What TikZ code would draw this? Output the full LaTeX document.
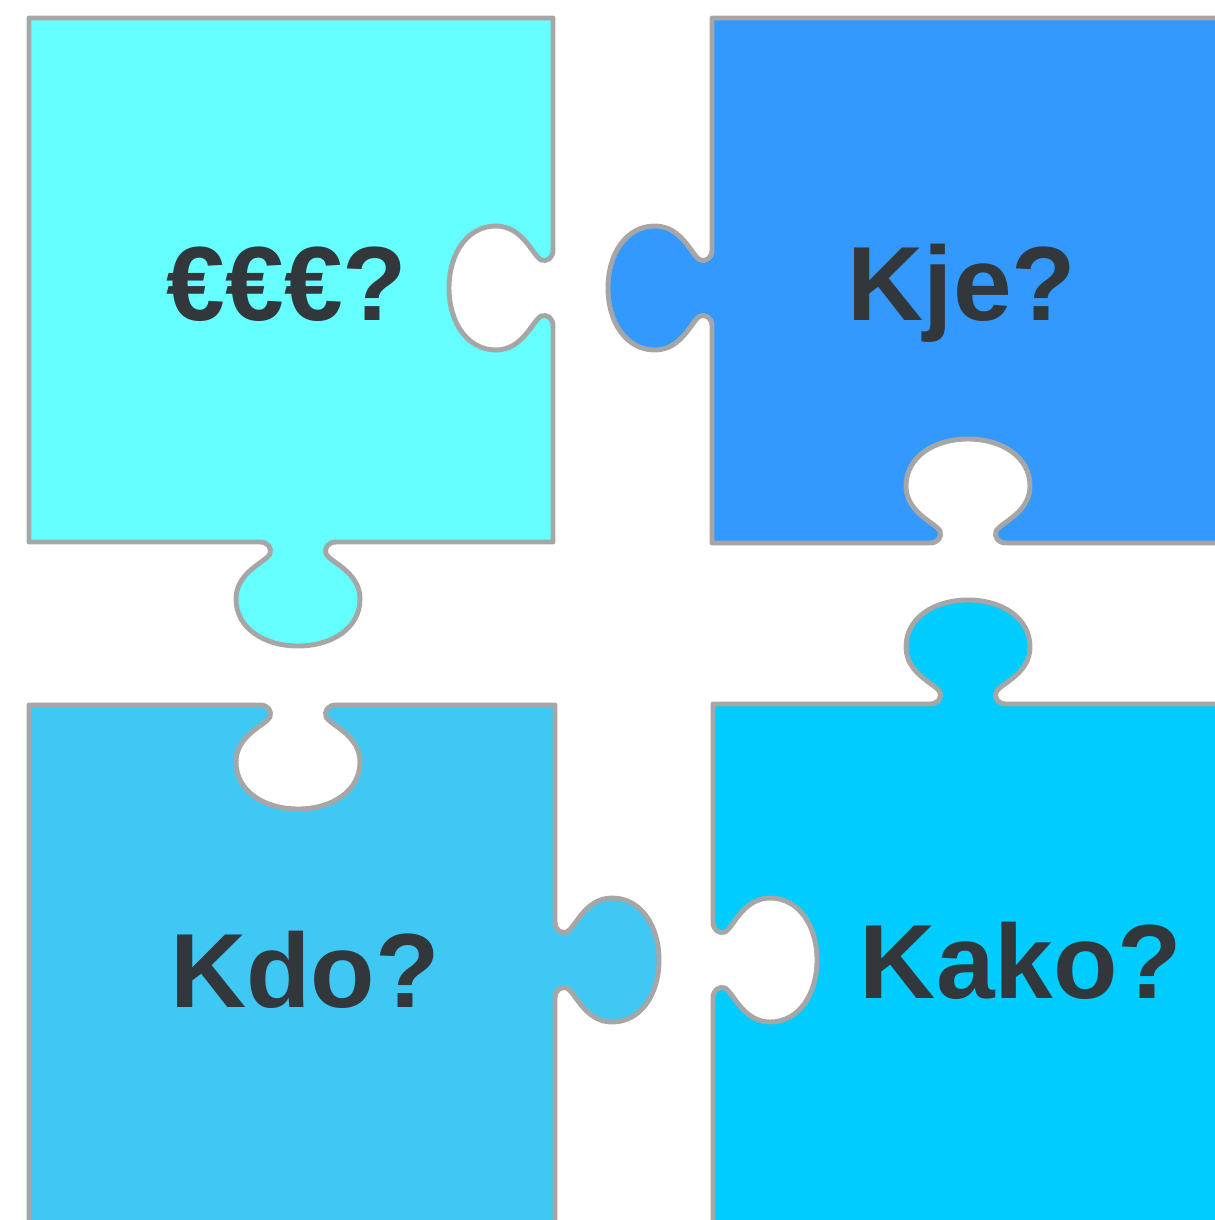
\documentclass[tikz,border=0pt]{standalone}
\usepackage{fontspec}
\setmainfont{Liberation Sans}
\usepackage{tikz}

\definecolor{pieceA}{HTML}{66FFFF}
\definecolor{pieceB}{HTML}{3399FF}
\definecolor{pieceC}{HTML}{40C8F4}
\definecolor{pieceD}{HTML}{00CCFF}
\definecolor{edgegray}{HTML}{A6A6A6}
\definecolor{textgray}{HTML}{32373C}

\tikzset{
  puzzlepiece/.style={draw=edgegray, line width=1.4pt, line join=round},
  puzzletext/.style={font=\bfseries\fontsize{30}{36}\selectfont, text=textgray, anchor=base}
}

% tab points: name, centre x, centre y, along x, along y, out x, out y
\newcommand{\tabpoints}[7]{%
  \foreach \pa/\pb [count=\i] in {-38/0,-30/0,-26/6,-28/12,-32/20,-62/30,-62/57,-62/86,-34/104,0/104,
      34/104,62/86,62/57,62/30,32/20,28/12,26/6,30/0,38/0}
    \coordinate (#1-\i) at ({#2+(\pa)*(#4)+(\pb)*(#6)},{#3+(\pa)*(#5)+(\pb)*(#7)});
}
\newcommand{\tabpath}[1]{-- (#1-1) .. controls (#1-2) and (#1-3) .. (#1-4)
  .. controls (#1-5) and (#1-6) .. (#1-7) .. controls (#1-8) and (#1-9) .. (#1-10)
  .. controls (#1-11) and (#1-12) .. (#1-13) .. controls (#1-14) and (#1-15) .. (#1-16)
  .. controls (#1-17) and (#1-18) .. (#1-19)}

\begin{document}
\begin{tikzpicture}[x=0.1mm, y=-0.1mm]
  \clip (0,0) rectangle (1215,1220);

  % Tabs
  \tabpoints{ra}{553}{288}{0}{1}{-1}{0}
  \tabpoints{ba}{298}{542}{-1}{0}{0}{1}
  \tabpoints{bb}{968}{543}{-1}{0}{0}{-1}
  \tabpoints{lb}{712}{288}{0}{-1}{-1}{0}
  \tabpoints{tc}{298}{705}{1}{0}{0}{1}
  \tabpoints{rc}{555}{960}{0}{1}{1}{0}
  \tabpoints{td}{968}{704}{1}{0}{0}{-1}
  \tabpoints{ld}{713}{960}{0}{-1}{1}{0}

  % Pieces
  \draw[puzzlepiece, fill=pieceA] (29,18) -- (553,18) \tabpath{ra} -- (553,542)
    \tabpath{ba} -- (29,542) -- cycle;
  \draw[puzzlepiece, fill=pieceB] (712,18) -- (1240,18) -- (1240,543) \tabpath{bb}
    -- (712,543) \tabpath{lb} -- cycle;
  \draw[puzzlepiece, fill=pieceC] (29,705) \tabpath{tc} -- (555,705) \tabpath{rc}
    -- (555,1240) -- (29,1240) -- cycle;
  \draw[puzzlepiece, fill=pieceD] (713,704) \tabpath{td} -- (1240,704) -- (1240,1240)
    -- (713,1240) \tabpath{ld} -- cycle;

  % Questions
  \node[puzzletext] (cost) at (287,320) {€€€?};
  \node[puzzletext] (where) at (962,320) {Kje?};
  \node[puzzletext] (who) at (305,1007) {Kdo?};
  \node[puzzletext] (how) at (1021,998) {Kako?};
\end{tikzpicture}
\end{document}
